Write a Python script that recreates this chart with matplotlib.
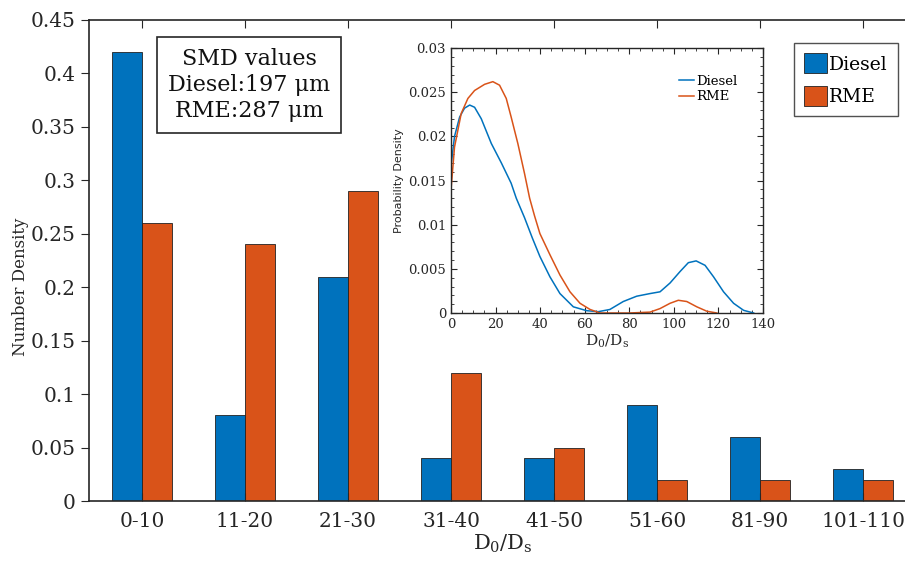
import matplotlib
matplotlib.use("Agg")
import matplotlib.pyplot as plt
from matplotlib.ticker import MultipleLocator
import numpy as np

plt.rcParams['font.family'] = ['DejaVu Serif']
plt.rcParams['mathtext.fontset'] = 'dejavuserif'

# binned number density
bins = ['0-10', '11-20', '21-30', '31-40', '41-50', '51-60', '81-90', '101-110']
diesel = [0.42, 0.08, 0.21, 0.04, 0.04, 0.09, 0.06, 0.03]
rme = [0.26, 0.24, 0.29, 0.12, 0.05, 0.02, 0.02, 0.02]

# probability density curves
d_x = [0, 1.6, 3.9, 6.1, 8.4, 10.6, 13.6, 18.1, 22.6, 27, 29.3, 33, 36.5,
       39.9, 44.4, 48.9, 54.9, 60.9, 66.1, 71.3, 77.3, 83.3, 89.3, 93.8,
       98.3, 102.8, 106.5, 110, 114, 117.8, 122.3, 126.8, 131.3, 135.8]
d_pdf = [0.0166, 0.0200, 0.0222, 0.0232, 0.02355, 0.0233, 0.0220, 0.0192,
         0.0170, 0.0147, 0.0130, 0.0108, 0.0085, 0.0064, 0.0041, 0.0022,
         0.0007, 0.00026, 0.00015, 0.0004, 0.0013, 0.0019, 0.0022, 0.0024,
         0.0034, 0.0047, 0.0057, 0.0059, 0.0054, 0.0041, 0.0024, 0.0011,
         0.0003, 0.0]
r_x = [0, 1.6, 4.6, 7.6, 10.6, 15.1, 18.8, 21.8, 24.8, 27, 30, 33, 35.3,
       37.5, 39.9, 44.4, 48.9, 53.4, 57.9, 62.4, 66.9, 80, 89.3, 93.8, 98.3,
       102, 105.8, 110.3, 114.8, 119.3]
r_pdf = [0.0139, 0.0188, 0.0226, 0.0243, 0.0252, 0.0259, 0.0262, 0.0258,
         0.0243, 0.0222, 0.0192, 0.0158, 0.0130, 0.0110, 0.0090, 0.0066,
         0.0043, 0.0024, 0.0011, 0.0004, 0.0, 0.0, 0.0001, 0.0005, 0.0011,
         0.00144, 0.0013, 0.0007, 0.0002, 0.0]

blue = '#0072BD'
orange = '#D95319'
ink = '#262626'

fig = plt.figure(figsize=(9.05, 5.66), dpi=100)
ax = fig.add_axes([0.0983, 0.1148, 0.914, 0.85])

x = np.arange(1, len(bins) + 1)
w = 0.29
ax.bar(x - w / 2, diesel, w, color=blue, edgecolor='#222222', linewidth=0.6, label='Diesel')
ax.bar(x + w / 2, rme, w, color=orange, edgecolor='#222222', linewidth=0.6, label='RME')
ax.set_xlim(0.485, 8.515)
ax.set_ylim(0, 0.45)
ax.set_xticks(x)
ax.set_xticklabels(bins)
ax.set_yticks(np.arange(0, 0.451, 0.05))
ax.set_yticklabels(['0'] + ['%g' % v for v in np.arange(0.05, 0.451, 0.05)])
ax.tick_params(axis='x', direction='in', top=True, length=6, labelsize=14.5, colors=ink, pad=8)
ax.tick_params(axis='y', direction='out', length=6, labelsize=14.5, colors=ink)
for s in ax.spines.values():
    s.set_color(ink)
    s.set_linewidth(1.2)
ax.set_ylabel('Number Density', fontsize=12, color=ink)
ax.yaxis.set_label_coords(-0.073, 0.445)
ax.set_xlabel(r'$\mathregular{D_0/D_s}$', fontsize=15, color=ink, labelpad=1)

leg = ax.legend(loc='upper left', bbox_to_anchor=(0.852, 0.952), fontsize=13.5,
                frameon=True, fancybox=False, edgecolor=ink,
                handlelength=1.2, handleheight=1.25, handletextpad=0.15,
                borderpad=0.55, labelspacing=0.65, borderaxespad=0)
leg.get_frame().set_linewidth(1.0)

ax.text(0.1935, 0.865, 'SMD values\nDiesel:197 \u03bcm\nRME:287 \u03bcm',
        transform=ax.transAxes, ha='center', va='center', fontsize=16,
        color='#111111', linespacing=1.22, multialignment='center',
        bbox=dict(boxstyle='square,pad=0.5', fc='white', ec=ink, lw=1.2))

# inset with density curves
ins = fig.add_axes([0.4983, 0.447, 0.3448, 0.468])
ins.plot(d_x, d_pdf, color=blue, lw=1.1, label='Diesel')
ins.plot(r_x, r_pdf, color=orange, lw=1.1, label='RME')
ins.set_xlim(0, 140)
ins.set_ylim(0, 0.03)
ins.xaxis.set_major_locator(MultipleLocator(20))
ins.xaxis.set_minor_locator(MultipleLocator(5))
ins.yaxis.set_minor_locator(MultipleLocator(0.001))
ins.set_yticks(np.arange(0, 0.0301, 0.005))
ins.set_yticklabels(['0', '0.005', '0.01', '0.015', '0.02', '0.025', '0.03'])
ins.tick_params(which='both', direction='in', top=True, right=True,
                labelsize=9.5, colors=ink)
ins.tick_params(which='major', length=4)
ins.tick_params(which='minor', length=2)
for s in ins.spines.values():
    s.set_color(ink)
    s.set_linewidth(1.0)
ins.set_ylabel('Probability Density', fontsize=8, family='DejaVu Sans',
               color=ink, labelpad=3)
ins.set_xlabel(r'$\mathregular{D_0/D_s}$', fontsize=11, color=ink, labelpad=1)
ins.legend(loc='upper right', bbox_to_anchor=(0.935, 0.92), fontsize=9.5,
           frameon=False, handlelength=1.1, handletextpad=0.2,
           labelspacing=0.2, borderaxespad=0)

fig.savefig('out.png', dpi=100)
